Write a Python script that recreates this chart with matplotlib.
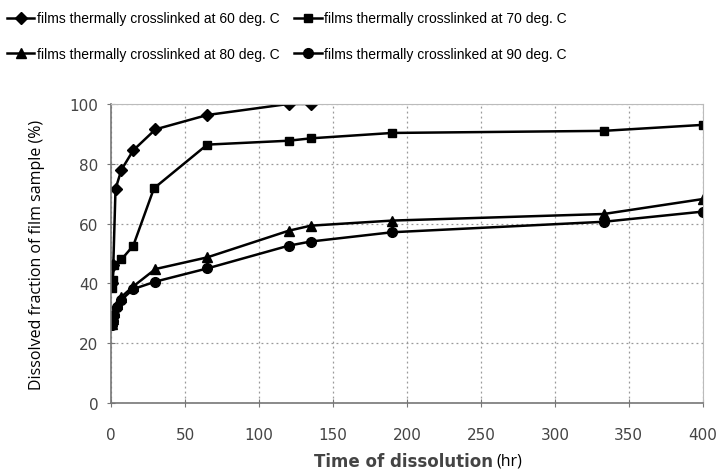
import matplotlib.pyplot as plt

# dissolution time (hr) and dissolved fraction (%) for each crosslink temperature
t_60 = [0.5, 1.5, 3, 7, 15, 30, 65, 120, 135]
f_60 = [40, 46, 71.6, 78, 84.5, 91.5, 96.3, 100, 100]

t_70 = [0.5, 1, 2, 7, 15, 29, 65, 120, 135, 190, 333, 400]
f_70 = [38.5, 41, 46, 48, 52.6, 71.8, 86.4, 87.7, 88.5, 90.3, 91, 93]

t_80 = [0.5, 1, 2, 4, 7, 15, 30, 65, 120, 135, 190, 333, 400]
f_80 = [26.5, 28, 30.5, 33, 35.5, 39, 44.8, 48.7, 57.6, 59.3, 61, 63.2, 68.2]

t_90 = [0.5, 1, 2, 4, 7, 15, 30, 65, 120, 135, 190, 333, 400]
f_90 = [26, 27.5, 29.5, 32, 34.5, 38.1, 40.6, 45, 52.6, 54, 57.1, 60.6, 64]

labels = ["films thermally crosslinked at 60 deg. C",
          "films thermally crosslinked at 70 deg. C",
          "films thermally crosslinked at 80 deg. C",
          "films thermally crosslinked at 90 deg. C"]

x_ticks = [0, 50, 100, 150, 200, 250, 300, 350, 400]
y_ticks = [0, 20, 40, 60, 80, 100]

fig = plt.figure(figsize=(7.26, 4.77), dpi=100)
ax = fig.add_axes([0.153, 0.153, 0.815, 0.627])

series = [(t_60, f_60, "D", 6.5), (t_70, f_70, "s", 6),
          (t_80, f_80, "^", 7), (t_90, f_90, "o", 7)]
lines = []
for (t, f, m, ms), lab in zip(series, labels):
    ln, = ax.plot(t, f, color="black", lw=1.8, marker=m, markersize=ms, label=lab)
    lines.append(ln)

ax.set_xlim(0, 400)
ax.set_ylim(0, 100)
ax.set_xticks(x_ticks)
ax.set_yticks(y_ticks)
ax.grid(True, color="#999999", linestyle=(0, (1.5, 2.5)), linewidth=0.9)
for side in ["left", "bottom"]:
    ax.spines[side].set_color("#777777")
    ax.spines[side].set_linewidth(1.2)
for side in ["top", "right"]:
    ax.spines[side].set_color("#bbbbbb")
    ax.spines[side].set_linewidth(0.8)
ax.tick_params(direction="inout", length=6, color="#777777", labelsize=11,
               labelcolor="#444444", pad=6)
ax.tick_params(axis="x", pad=14)

ax.set_ylabel("Dissolved fraction of film sample (%)", fontsize=11.5,
              family="Open Sans", labelpad=18)
ax.text(0.645, -0.165, "Time of dissolution", transform=ax.transAxes, ha="right",
        va="top", fontsize=12, color="#444444", fontweight="bold")
ax.text(0.652, -0.165, "(hr)", transform=ax.transAxes, ha="left", va="top",
        fontsize=11.5, family="Open Sans")

# row order: 60, 70 on top, 80, 90 below
order = [0, 2, 1, 3]
fig.legend([lines[i] for i in order], [labels[i] for i in order],
           loc="upper left", bbox_to_anchor=(-0.008, 1.0), ncol=2, frameon=False,
           handlelength=2.0, handletextpad=0.2, columnspacing=1.0,
           labelspacing=1.55, prop={"family": "Liberation Sans", "size": 10})

fig.savefig("out.png")
